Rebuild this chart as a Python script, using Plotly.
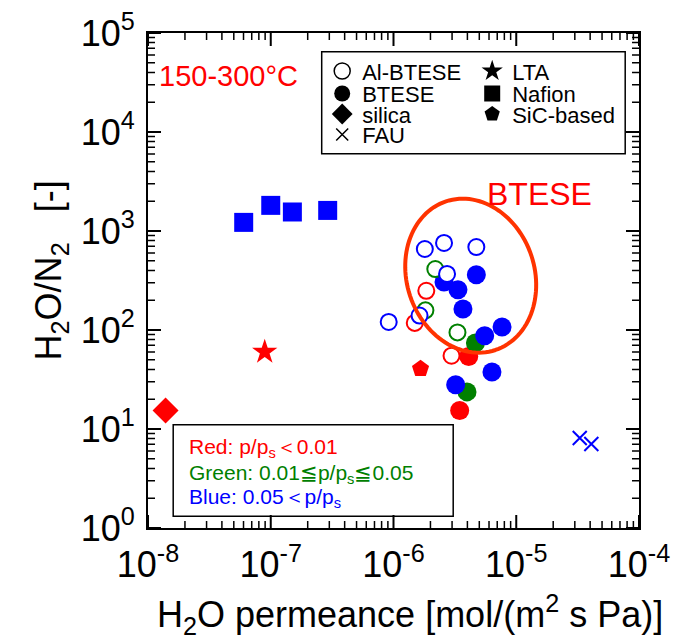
import plotly.graph_objects as go
import math

RED, GREEN, BLUE = "#FF0000", "#008000", "#0000FF"

# ---- data: H2O permeance [mol/(m2 s Pa)] and H2O/N2 selectivity ----
al_red_x = [1.85e-6, 1.49e-6, 2.97e-6]
al_red_y = [249, 118, 55]
al_green_x = [2.19e-6, 1.82e-6, 3.32e-6]
al_green_y = [413, 158, 94.6]
al_blue_x = [1.80e-6, 2.58e-6, 4.73e-6, 2.73e-6, 1.63e-6, 9.14e-7]
al_blue_y = [658, 757, 689, 368, 140, 120.5]

bt_red_x = [4.10e-6, 3.46e-6]
bt_red_y = [54, 15.4]
bt_green_x = [4.65e-6, 3.97e-6]
bt_green_y = [74, 23.7]
bt_blue_x = [2.58e-6, 4.73e-6, 3.35e-6, 3.68e-6, 5.53e-6, 7.66e-6, 6.34e-6, 3.21e-6]
bt_blue_y = [305, 362, 255, 163, 87.5, 107, 37.7, 28]

silica_x = [1.39e-8]
silica_y = [15.4]
lta_x = [8.93e-8]
lta_y = [60]
nafion_x = [6.02e-8, 1.0e-7, 1.50e-7, 2.91e-7]
nafion_y = [1222, 1815, 1556, 1614]
sic_x = [1.66e-6]
sic_y = [40.6]
fau_x = [3.29e-5, 4.09e-5]
fau_y = [8.11, 7.05]

x_tick_vals = [1e-8, 1e-7, 1e-6, 1e-5, 1e-4]
x_tick_text = ["10<sup>-8</sup>", "10<sup>-7</sup>", "10<sup>-6</sup>", "10<sup>-5</sup>", "10<sup>-4</sup>"]
y_tick_vals = [1, 10, 100, 1000, 10000, 100000]
y_tick_text = ["10<sup>0</sup>", "10<sup>1</sup>", "10<sup>2</sup>", "10<sup>3</sup>", "10<sup>4</sup>", "10<sup>5</sup>"]
x_minor_vals = [m * 10.0 ** e for e in range(-8, -4) for m in range(2, 10)]
y_minor_vals = [m * 10.0 ** e for e in range(0, 5) for m in range(2, 10)]
X_RANGE = [-8, -4]
Y_RANGE = [0, 5]

legend_names = ["Al-BTESE", "BTESE", "silica", "FAU", "LTA", "Nafion", "SiC-based"]

FONT = "Liberation Sans, Arial, sans-serif"

# geometry helpers (pixel -> paper)
L, R, T, B = 148.3, 639.3, 33.3, 528.3
W, H = R - L, B - T
def px(x):
    return (x - L) / W
def py(y):
    return (B - y) / H

fig = go.Figure()

def add(x, y, symbol, size, color, line_color=None, line_width=0):
    fig.add_trace(go.Scatter(
        x=x, y=y, mode="markers", showlegend=False, hoverinfo="skip",
        marker=dict(symbol=symbol, size=size, color=color,
                    line=dict(color=line_color or color, width=line_width))))

# other materials
add(silica_x, silica_y, "diamond", 20, RED)
add(lta_x, lta_y, "star", 19, RED)
add(nafion_x, nafion_y, "square", 19, BLUE)
add(sic_x, sic_y, "pentagon", 18, RED)
add(fau_x, fau_y, "x-thin-open", 14, BLUE, BLUE, 2)
# BTESE filled
add(bt_red_x, bt_red_y, "circle", 19, RED)
add(bt_green_x, bt_green_y, "circle", 19, GREEN)
add(bt_blue_x, bt_blue_y, "circle", 19, BLUE)
# Al-BTESE open (white fill)
add(al_red_x, al_red_y, "circle", 16, "white", RED, 2)
add(al_green_x, al_green_y, "circle", 16, "white", GREEN, 2)
add(al_blue_x, al_blue_y, "circle", 16, "white", BLUE, 2)

# legend-only entries (black symbols), one legend per row
leg_styles = [
    dict(symbol="circle", color="white", line=dict(color="black", width=1.5), size=16),
    dict(symbol="circle", color="black", size=16),
    dict(symbol="diamond", color="black", size=16),
    dict(symbol="x-thin-open", color="black", line=dict(color="black", width=1.5), size=12),
    dict(symbol="star", color="black", size=16),
    dict(symbol="square", color="black", size=16),
    dict(symbol="pentagon", color="black", size=16),
]
leg_pos = [(322.5, 71.5), (322.5, 94), (322.5, 114.5), (322.5, 135),
           (472.5, 71.5), (472.5, 94), (472.5, 114.5)]
legends = {}
for i, (name, st, (lx, ly)) in enumerate(zip(legend_names, leg_styles, leg_pos)):
    key = "legend" if i == 0 else f"legend{i+1}"
    fig.add_trace(go.Scatter(x=[None], y=[None], mode="markers", name=name,
                             marker=st, legend=key, showlegend=True))
    legends[key] = dict(x=px(lx), y=py(ly), xanchor="left", yanchor="middle",
                        bgcolor="rgba(0,0,0,0)", borderwidth=0,
                        font=dict(family=FONT, size=22, color="black"))
fig.update_layout(**legends)

# ellipse around BTESE cluster (pixel geometry -> paper path)
cx, cy, a, b = 471.0, 276.0, 78.3, 63.9
phi = math.radians(18.4)
ux, uy = math.sin(phi), math.cos(phi)
vx, vy = math.cos(phi), -math.sin(phi)
pts = []
for k in range(0, 121):
    t = 2 * math.pi * k / 120
    X = cx + a * math.cos(t) * ux + b * math.sin(t) * vx
    Y = cy + a * math.cos(t) * uy + b * math.sin(t) * vy
    pts.append(f"{px(X):.5f},{py(Y):.5f}")
path = "M " + " L ".join(pts) + " Z"

shapes = [
    dict(type="path", xref="paper", yref="paper", path=path,
         line=dict(color="#FF3300", width=4)),
    # legend frame
    dict(type="rect", xref="paper", yref="paper", x0=px(322), x1=px(625.5),
         y0=py(154), y1=py(52), line=dict(color="black", width=1.5),
         fillcolor="rgba(0,0,0,0)"),
    # condition box
    dict(type="rect", xref="paper", yref="paper", x0=px(173.5), x1=px(453.5),
         y0=py(516.5), y1=py(425), line=dict(color="black", width=1.5),
         fillcolor="white"),
]

# inward tick marks on all four sides, drawn as path shapes (log scale -> axis fraction)
MAJ, MIN = 13, 7
def frac(v, rng):
    return (math.log10(v) - rng[0]) / (rng[1] - rng[0])
def tick_path(xvals, yvals, length):
    segs = []
    hx, hy = length / H, length / W
    for v in xvals:
        f = frac(v, X_RANGE)
        segs.append(f"M {f:.5f},0 L {f:.5f},{hx:.5f}")
        segs.append(f"M {f:.5f},1 L {f:.5f},{1 - hx:.5f}")
    for v in yvals:
        f = frac(v, Y_RANGE)
        segs.append(f"M 0,{f:.5f} L {hy:.5f},{f:.5f}")
        segs.append(f"M 1,{f:.5f} L {1 - hy:.5f},{f:.5f}")
    return " ".join(segs)

shapes.append(dict(type="path", xref="paper", yref="paper",
                   path=tick_path(x_tick_vals, y_tick_vals, MAJ),
                   line=dict(color="black", width=2)))
shapes.append(dict(type="path", xref="paper", yref="paper",
                   path=tick_path(x_minor_vals, y_minor_vals, MIN),
                   line=dict(color="black", width=1.5)))

def ann(text, x, y, size, color, xanchor="center", angle=0):
    return dict(text=text, x=px(x), y=py(y), xref="paper", yref="paper",
                showarrow=False, xanchor=xanchor, yanchor="middle", textangle=angle,
                font=dict(family=FONT, size=size, color=color))

annotations = [
    ann("150-300°C", 229, 76, 29, RED),
    ann("BTESE", 540, 194, 32, RED),
    ann("Red: p/p<sub>s</sub>＜0.01", 187, 448, 21, RED, "left"),
    ann("Green: 0.01≦p/p<sub>s</sub>≦0.05", 187, 474.5, 21, GREEN, "left"),
    ann("Blue: 0.05＜p/p<sub>s</sub>", 187, 498, 21, BLUE, "left"),
    ann("H<sub>2</sub>O permeance [mol/(m<sup>2</sup> s Pa)]", 410, 615, 36, "black"),
    ann("H<sub>2</sub>O/N<sub>2</sub>   [-]", 51, 271, 36, "black", angle=-90),
]

fig.update_layout(
    template="none",
    xaxis=dict(type="log", range=X_RANGE, showline=True, linecolor="black", linewidth=2,
               mirror=True, ticks="", showgrid=False, zeroline=False, tickmode="array",
               tickvals=x_tick_vals, ticktext=x_tick_text, ticklabelstandoff=4,
               tickfont=dict(family=FONT, size=36, color="black")),
    yaxis=dict(type="log", range=Y_RANGE, showline=True, linecolor="black", linewidth=2,
               mirror=True, ticks="", showgrid=False, zeroline=False, tickmode="array",
               tickvals=y_tick_vals, ticktext=y_tick_text, ticklabelstandoff=4,
               tickfont=dict(family=FONT, size=36, color="black")),
)

fig.update_layout(width=682, height=639,
                  margin=dict(l=148, r=43, t=33, b=111, autoexpand=False),
                  paper_bgcolor="white", plot_bgcolor="white",
                  shapes=shapes, annotations=annotations,
                  font=dict(family=FONT))

fig.write_html("out.html")
